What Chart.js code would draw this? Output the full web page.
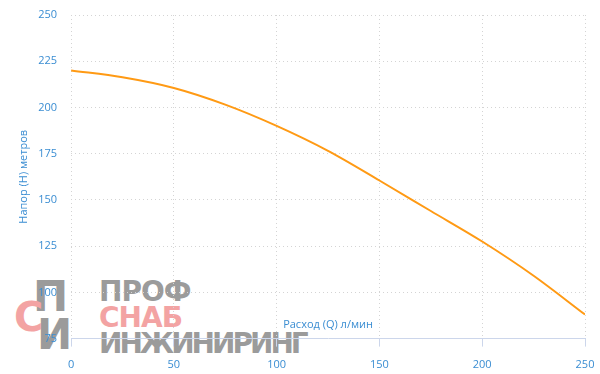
<!DOCTYPE html>
<html>
<head>
<meta charset="utf-8">
<script src="https://cdn.jsdelivr.net/npm/chart.js@4"></script>
<style>
  html, body { margin: 0; padding: 0; background: #fff; }
  #wrap { position: relative; width: 600px; height: 374px; }
  #chart { position: absolute; left: 0; top: 0; z-index: 2; }
  .wm { position: absolute; z-index: 1; font-family: "DejaVu Sans", sans-serif; font-weight: bold; line-height: 1; white-space: nowrap; }
  .gray { color: #9b9b9b; }
  .pink { color: #f3a3a3; }
</style>
</head>
<body>
<div id="wrap">
  <div class="wm gray" style="left:33px; top:276px; font-size:42px;">П</div>
  <div class="wm pink" style="left:14px; top:297px; font-size:40px;">С</div>
  <div class="wm gray" style="left:37px; top:314px; font-size:42px;">И</div>
  <div class="wm gray" style="left:99px; top:278px; font-size:28px; letter-spacing:-1px;">ПРОФ</div>
  <div class="wm pink" style="left:99px; top:304px; font-size:28px; letter-spacing:-1px;">СНАБ</div>
  <div class="wm gray" style="left:99px; top:330px; font-size:28px; letter-spacing:-3px;">ИНЖИНИРИНГ</div>
  <canvas id="chart" width="600" height="374"></canvas>
</div>
<script>
const flowValues = [0, 25, 50, 75, 100, 125, 150, 175, 200, 225, 250];
const headValues = [220, 216.3, 210.5, 201.5, 190, 176.5, 160.5, 144, 127.5, 109, 88];
const xTicks = [0, 50, 100, 150, 200, 250];
const yTicks = [75, 100, 125, 150, 175, 200, 225, 250];

const xTitle = 'Расход (Q) л/мин';
const yTitle = 'Напор (H) метров';

const blue = '#3a8dd2';
const gridColor = '#d4d4d4';
const axisColor = '#ccd6eb';

const points = flowValues.map((q, i) => ({ x: q, y: headValues[i] }));

new Chart(document.getElementById('chart'), {
  type: 'line',
  data: {
    datasets: [{
      data: points,
      borderColor: '#ff9a14',
      borderWidth: 2,
      pointRadius: 0,
      cubicInterpolationMode: 'monotone',
      fill: false
    }]
  },
  options: {
    responsive: false,
    animation: false,
    layout: { padding: 0 },
    plugins: { legend: { display: false }, tooltip: { enabled: false } },
    scales: {
      x: {
        type: 'linear',
        min: 0,
        max: 250,
        afterBuildTicks: s => { s.ticks = xTicks.map(v => ({ value: v })); },
        // keep the plot running close to the right edge like the original
        afterFit: s => { s.paddingRight = 15; },
        ticks: { color: blue, font: { family: 'Open Sans', size: 11 }, padding: 12, maxRotation: 0 },
        grid: {
          color: gridColor,
          tickColor: axisColor,
          tickLength: 8,
          tickBorderDash: []
        },
        border: { display: true, color: axisColor, width: 1, dash: [1, 3] },
        title: {
          display: true,
          text: xTitle,
          color: blue,
          font: { family: 'Open Sans', size: 11 },
          padding: { top: -66, bottom: 43 }
        }
      },
      y: {
        min: 75,
        max: 250,
        afterBuildTicks: s => { s.ticks = yTicks.map(v => ({ value: v })); },
        afterFit: s => { s.paddingTop = 15; },
        ticks: { color: blue, font: { family: 'Open Sans', size: 11 }, padding: 14 },
        grid: { color: gridColor, drawTicks: false },
        border: { display: false, dash: [1, 3] },
        title: {
          display: true,
          text: yTitle,
          color: blue,
          font: { family: 'Open Sans', size: 11 },
          padding: { top: 17, bottom: -6 }
        }
      }
    }
  }
});
</script>
</body>
</html>
